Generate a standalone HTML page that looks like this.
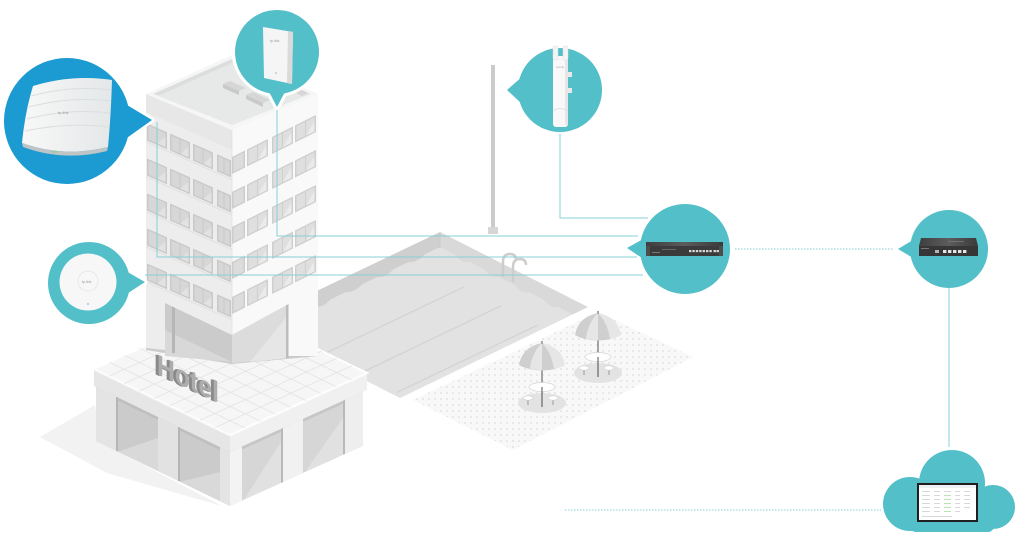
<!DOCTYPE html>
<html><head><meta charset="utf-8">
<style>html,body{margin:0;padding:0;background:#fff;overflow:hidden}svg{display:block}</style>
</head>
<body>
<svg width="1018" height="536" viewBox="0 0 1018 536" xmlns="http://www.w3.org/2000/svg" xmlns:xlink="http://www.w3.org/1999/xlink" font-family="'Liberation Sans', sans-serif">
<defs>
  <pattern id="dots" width="6" height="6" patternUnits="userSpaceOnUse"><circle cx="3" cy="3" r="0.9" fill="#dcdcdc"/></pattern>
  <clipPath id="poolclip"><polygon points="252,322 440,232 588,307 400,398"/></clipPath>
  <linearGradient id="apg" x1="0" x2="1" y1="0" y2="0"><stop offset="0" stop-color="#f8f8f8"/><stop offset="1" stop-color="#e4e7e8"/></linearGradient>
  <linearGradient id="rtop" x1="0" x2="1"><stop offset="0" stop-color="#3e3e3e"/><stop offset="0.5" stop-color="#5c5c5c"/><stop offset="1" stop-color="#3a3a3a"/></linearGradient>
  <g id="wL">
    <rect width="20" height="17" fill="#c9c9c9"/>
    <rect x="1.5" y="1.5" width="8" height="14" fill="#d7d7d7"/>
    <rect x="10.5" y="1.5" width="8" height="14" fill="#d7d7d7"/>
    <polygon points="10.5,15.5 18.5,5 18.5,15.5" fill="#e2e2e2"/>
  </g>
  <g id="wLn">
    <rect width="14" height="17" fill="#c9c9c9"/>
    <rect x="1.5" y="1.5" width="5" height="14" fill="#d7d7d7"/>
    <rect x="7.5" y="1.5" width="5" height="14" fill="#d7d7d7"/>
  </g>
  <g id="wR">
    <rect width="21" height="17" fill="#cfcfcf"/>
    <rect x="1.5" y="1.5" width="8.5" height="14" fill="#dfdfdf"/>
    <rect x="11" y="1.5" width="8.5" height="14" fill="#dfdfdf"/>
    <polygon points="11,15.5 19.5,5 19.5,15.5" fill="#ebebeb"/>
  </g>
  <g id="wRn">
    <rect width="13" height="17" fill="#cdcdcd"/>
    <rect x="1.5" y="1.5" width="10" height="14" fill="#dcdcdc"/>
  </g>
  <g id="umb">
    <ellipse cx="0" cy="60" rx="24" ry="10" fill="#e3e3e3"/>
    <line x1="-14" y1="55" x2="-14" y2="62" stroke="#9a9a9a" stroke-width="1"/>
    <line x1="11" y1="55" x2="11" y2="62" stroke="#9a9a9a" stroke-width="1"/>
    <ellipse cx="-14" cy="55" rx="5" ry="2.2" fill="#fff" stroke="#cfcfcf" stroke-width="0.6"/>
    <ellipse cx="11" cy="55" rx="5" ry="2.2" fill="#fff" stroke="#cfcfcf" stroke-width="0.6"/>
    <line x1="0" y1="22" x2="0" y2="64" stroke="#8f8f8f" stroke-width="1.6"/>
    <ellipse cx="0" cy="44" rx="13" ry="4.5" fill="#fff" stroke="#d2d2d2" stroke-width="0.7"/>
    <line x1="0" y1="44" x2="0" y2="64" stroke="#8f8f8f" stroke-width="1.6"/>
    <path d="M-23,22 Q0,33 23,22 Q0,29 -23,22Z" fill="#bdbdbd"/>
    <path d="M0,0 Q-20,4 -23,22 Q-18,25 -12,26 Q-10,10 0,0Z" fill="#cfcfcf"/>
    <path d="M0,0 Q-10,10 -12,26 L0,27.5 Z" fill="#e6e6e6"/>
    <path d="M0,0 L0,27.5 L12,26 Q10,10 0,0Z" fill="#cfcfcf"/>
    <path d="M0,0 Q10,10 12,26 Q18,25 23,22 Q20,4 0,0Z" fill="#e6e6e6"/>
    <rect x="-1" y="-2" width="2" height="3" fill="#aaa"/>
  </g>
</defs>

<!-- ground shadow -->
<polygon points="40,437 95,405 100,442 222,506 107,473" fill="#f2f2f2"/>

<!-- pool -->
<g clip-path="url(#poolclip)">
  <polygon points="252,322 440,232 588,307 400,398" fill="#d9d9d9"/>
  <polygon points="252,322 440,232 440,248 252,338" fill="#cfcfcf"/>
  <polygon points="252,337 440,247 588,322 400,413" fill="#e2e2e2"/>
  <path d="M252,337 q7.8,1 15.7,-7.5 t15.7,-7.5 t15.7,-7.5 t15.7,-7.5 t15.7,-7.5 t15.7,-7.5 t15.7,-7.5 t15.7,-7.5 t15.7,-7.5 t15.7,-7.5 t15.7,-7.5 t15.7,-7.5 L440,232 L252,322Z" fill="#cfcfcf"/>
  <path d="M440,247 q7.4,-2 14.8,7.5 t14.8,7.5 t14.8,7.5 t14.8,7.5 t14.8,7.5 t14.8,7.5 t14.8,7.5 t14.8,7.5 t14.8,7.5 t14.8,7.5 L588,307 L440,232Z" fill="#d9d9d9"/>
  <line x1="322.6" y1="354.6" x2="463.6" y2="287.1" stroke="#d3d3d3" stroke-width="1.3"/>
  <line x1="359.6" y1="373.6" x2="500.6" y2="306.1" stroke="#d3d3d3" stroke-width="1.3"/>
  <line x1="396.6" y1="392.6" x2="537.6" y2="325.1" stroke="#d3d3d3" stroke-width="1.3"/>
</g>
<line x1="440" y1="232" x2="440" y2="248" stroke="#c9c9c9" stroke-width="1"/>
<!-- ladder -->
<path d="M503,277 L503,262 Q503,254 510,254 Q516,254 516,260" stroke="#cdcdcd" stroke-width="2.5" fill="none"/>
<path d="M513,282 L513,267 Q513,259 520,259 Q526,259 526,265" stroke="#cdcdcd" stroke-width="2.5" fill="none"/>

<!-- light pole -->
<rect x="491" y="65" width="4" height="164" fill="#cbcbcb"/>
<rect x="488" y="227" width="10" height="7" fill="#d6d6d6"/>

<!-- patio -->
<polygon points="413,400 598,312 693,357 513,450" fill="#f8f8f8"/>
<polygon points="413,400 598,312 693,357 513,450" fill="url(#dots)"/>
<use xlink:href="#umb" href="#umb" x="598" y="313"/>
<use xlink:href="#umb" href="#umb" x="542" y="343"/>

<!-- podium roof -->
<polygon points="94,369 231,307 367,373 230,435" fill="#f6f6f6" stroke="#fff" stroke-width="2"/>
<g stroke="#e3e3e3" stroke-width="0.8">
  <line x1="109.1" y1="376.3" x2="246.1" y2="314.3"/>
  <line x1="124.2" y1="383.7" x2="261.2" y2="321.7"/>
  <line x1="139.3" y1="391" x2="276.3" y2="329"/>
  <line x1="154.4" y1="398.3" x2="291.4" y2="336.3"/>
  <line x1="169.6" y1="405.7" x2="306.6" y2="343.7"/>
  <line x1="184.7" y1="413" x2="321.7" y2="351"/>
  <line x1="199.8" y1="420.3" x2="336.8" y2="358.3"/>
  <line x1="214.9" y1="427.7" x2="351.9" y2="365.7"/>
  <line x1="109.2" y1="362.1" x2="245.2" y2="428.1"/>
  <line x1="124.4" y1="355.2" x2="260.4" y2="421.2"/>
  <line x1="139.7" y1="348.3" x2="275.7" y2="414.3"/>
  <line x1="154.9" y1="341.4" x2="290.9" y2="407.4"/>
  <line x1="170.1" y1="334.6" x2="306.1" y2="400.6"/>
  <line x1="185.3" y1="327.7" x2="321.3" y2="393.7"/>
  <line x1="200.6" y1="320.8" x2="336.6" y2="386.8"/>
  <line x1="215.8" y1="313.9" x2="351.8" y2="379.9"/>
</g>

<!-- podium left facade -->
<g transform="matrix(1 0.485 0 1 94 369)">
  <rect x="0" y="0" width="136" height="17" fill="#e6e6e6"/>
  <rect x="0" y="0" width="136" height="1.5" fill="#fafafa"/>
  <rect x="2" y="17" width="134" height="54" fill="#cbcbcb"/>
  <polygon points="24,71 64,38 64,71" fill="#d9d9d9"/>
  <polygon points="86,71 126,42 126,71" fill="#d9d9d9"/>
  <rect x="2" y="17" width="134" height="3" fill="#bfbfbf"/>
  <rect x="2" y="17" width="20" height="54" fill="#e4e4e4"/>
  <rect x="22" y="17" width="2" height="54" fill="#b5b5b5"/>
  <rect x="64" y="17" width="20" height="54" fill="#e2e2e2"/>
  <rect x="84" y="17" width="2" height="54" fill="#b5b5b5"/>
  <rect x="126" y="17" width="10" height="54" fill="#e4e4e4"/>
</g>
<!-- podium right facade -->
<g transform="matrix(1 -0.453 0 1 230 435)">
  <rect x="0" y="0" width="137" height="17" fill="#f0f0f0"/>
  <rect x="0" y="0" width="137" height="1.5" fill="#fcfcfc"/>
  <rect x="0" y="17" width="133" height="54" fill="#d6d6d6"/>
  <polygon points="14,71 51,30 51,71" fill="#e1e1e1"/>
  <polygon points="75,71 113,34 113,71" fill="#e1e1e1"/>
  <rect x="0" y="17" width="133" height="3" fill="#c6c6c6"/>
  <rect x="0" y="17" width="12" height="54" fill="#f3f3f3"/>
  <rect x="51" y="17" width="2" height="54" fill="#b9b9b9"/>
  <rect x="53" y="17" width="20" height="54" fill="#f1f1f1"/>
  <rect x="113" y="17" width="2" height="54" fill="#b9b9b9"/>
  <rect x="115" y="17" width="18" height="54" fill="#eeeeee"/>
</g>

<!-- tower lobby -->
<polygon points="146,298 318,290 318,356 232,364 146,350" fill="#cbcbcb"/>
<polygon points="165,330 232,362 165,356" fill="#d8d8d8"/>
<polygon points="232,335 288,304 288,358 232,363" fill="#dcdcdc"/>
<polygon points="250,362 288,315 288,358" fill="#e6e6e6"/>
<rect x="172" y="305" width="3" height="48" fill="#b6b6b6"/>
<rect x="286" y="304" width="2.5" height="54" fill="#bdbdbd"/>

<!-- tower faces -->
<polygon points="146,94 232,130 232,335 165,303 165,350 146,348" fill="#ededed"/>
<polygon points="232,130 318,94 318,356 288.5,356 288.5,304 232,335" fill="#f9f9f9"/>
<polygon points="146,94 232,130 232,150 146,112" fill="#e7e7e7"/>
<line x1="232" y1="130" x2="232" y2="335" stroke="#e2e2e2" stroke-width="0.8"/>

<g transform="matrix(1 0.44 0 1 146 112)">
  <use href="#wL" xlink:href="#wL" x="1" y="11"/><use href="#wL" xlink:href="#wL" x="24" y="11"/><use href="#wL" xlink:href="#wL" x="47" y="11"/><use href="#wLn" xlink:href="#wLn" x="71" y="11"/>
  <use href="#wL" xlink:href="#wL" x="1" y="46"/><use href="#wL" xlink:href="#wL" x="24" y="46"/><use href="#wL" xlink:href="#wL" x="47" y="46"/><use href="#wLn" xlink:href="#wLn" x="71" y="46"/>
  <use href="#wL" xlink:href="#wL" x="1" y="81"/><use href="#wL" xlink:href="#wL" x="24" y="81"/><use href="#wL" xlink:href="#wL" x="47" y="81"/><use href="#wLn" xlink:href="#wLn" x="71" y="81"/>
  <use href="#wL" xlink:href="#wL" x="1" y="116"/><use href="#wL" xlink:href="#wL" x="24" y="116"/><use href="#wL" xlink:href="#wL" x="47" y="116"/><use href="#wLn" xlink:href="#wLn" x="71" y="116"/>
  <use href="#wL" xlink:href="#wL" x="1" y="151"/><use href="#wL" xlink:href="#wL" x="24" y="151"/><use href="#wL" xlink:href="#wL" x="47" y="151"/><use href="#wLn" xlink:href="#wLn" x="71" y="151"/>
  <g fill="#e3e3e3"><rect x="0" y="29" width="86" height="1.5"/><rect x="0" y="64" width="86" height="1.5"/><rect x="0" y="99" width="86" height="1.5"/><rect x="0" y="134" width="86" height="1.5"/><rect x="0" y="169" width="86" height="1.5"/></g>
</g>
<g transform="matrix(1 -0.5 0 1 232 150)">
  <use href="#wRn" xlink:href="#wRn" x="0" y="7"/><use href="#wR" xlink:href="#wR" x="15" y="7"/><use href="#wR" xlink:href="#wR" x="40" y="7"/><use href="#wR" xlink:href="#wR" x="63" y="7"/>
  <use href="#wRn" xlink:href="#wRn" x="0" y="42"/><use href="#wR" xlink:href="#wR" x="15" y="42"/><use href="#wR" xlink:href="#wR" x="40" y="42"/><use href="#wR" xlink:href="#wR" x="63" y="42"/>
  <use href="#wRn" xlink:href="#wRn" x="0" y="77"/><use href="#wR" xlink:href="#wR" x="15" y="77"/><use href="#wR" xlink:href="#wR" x="40" y="77"/><use href="#wR" xlink:href="#wR" x="63" y="77"/>
  <use href="#wRn" xlink:href="#wRn" x="0" y="112"/><use href="#wR" xlink:href="#wR" x="15" y="112"/><use href="#wR" xlink:href="#wR" x="40" y="112"/><use href="#wR" xlink:href="#wR" x="63" y="112"/>
  <use href="#wRn" xlink:href="#wRn" x="0" y="147"/><use href="#wR" xlink:href="#wR" x="15" y="147"/><use href="#wR" xlink:href="#wR" x="40" y="147"/><use href="#wR" xlink:href="#wR" x="63" y="147"/>
</g>

<!-- tower roof -->
<polygon points="146,94 232,55 318,94 232,130" fill="#f6f6f6"/>
<polygon points="153,94 232,59 311,94 232,125" fill="#e7e8e8"/>
<polygon points="153,94 232,59 232,63 160,95" fill="#dcdddd"/>
<polygon points="223,84 230,81 246,88 239,91" fill="#d6d6d6"/><polygon points="223,84 239,91 239,95 223,88" fill="#c9c9c9"/>
<polygon points="246,95 253,92 270,100 263,103" fill="#d6d6d6"/><polygon points="246,95 263,103 263,107 246,99" fill="#c9c9c9"/>
<polygon points="294,92 300,89 308,93 302,96" fill="#d6d6d6"/>

<!-- Hotel sign -->
<g transform="translate(157,374) skewY(25)" font-size="29" font-weight="bold">
  <text x="-3" y="1" fill="#8a8a8a" textLength="62" lengthAdjust="spacingAndGlyphs">Hotel</text>
  <text x="-1.5" y="0.5" fill="#8a8a8a" textLength="62" lengthAdjust="spacingAndGlyphs">Hotel</text>
  <text x="0" y="0" fill="#adadad" textLength="62" lengthAdjust="spacingAndGlyphs">Hotel</text>
</g>

<!-- connector lines -->
<g stroke="#86d0d8" stroke-width="1" fill="none">
  <polyline points="277,108 277,236 638,236"/>
  <polyline points="157,122 157,257 637,257"/>
  <line x1="145" y1="275" x2="643" y2="275"/>
  <polyline points="560,134 560,218 648,218"/>
  <line x1="949" y1="288" x2="949" y2="447"/>
  <line x1="735" y1="249" x2="893" y2="249" stroke-dasharray="1.5 1.5"/>
  <line x1="565" y1="510" x2="881" y2="510" stroke-dasharray="1.5 1.5"/>
</g>

<!-- blue bubble (ceiling AP) -->
<g>
  <circle cx="67" cy="121" r="63" fill="#fff" stroke="#fff" stroke-width="5"/>
  <polygon points="122,102 152,120 124,140" fill="#fff" stroke="#fff" stroke-width="5" stroke-linejoin="round"/>
  <circle cx="67" cy="121" r="63" fill="#1c9ad2"/>
  <polygon points="122,102 152,120 124,140" fill="#1c9ad2"/>
  <path d="M33,86 Q72,74 112,80 Q111,115 108,147 Q64,158 22,143 Q25,112 33,86 Z" fill="url(#apg)"/>
  <g stroke="#dcdfe0" stroke-width="1.1" fill="none">
    <path d="M31,96 Q72,85 111,90"/><path d="M29,107 Q71,96 111,101"/><path d="M27,119 Q70,108 110,113"/><path d="M25,131 Q68,122 109,127"/>
  </g>
  <path d="M22,143 Q64,158 108,147 L107,151 Q64,162 23,147 Z" fill="#bfc4c6"/>
  <rect x="52" y="151" width="5" height="1.5" fill="#8fd18f"/>
  <text x="58" y="114" font-size="4" fill="#9a9a9a">tp-link</text>
</g>

<!-- top bubble (wall plate AP) -->
<g>
  <circle cx="277" cy="52" r="42" fill="#fff" stroke="#fff" stroke-width="6"/>
  <polygon points="267,88 277,107 287,88" fill="#fff" stroke="#fff" stroke-width="6" stroke-linejoin="round"/>
  <circle cx="277" cy="52" r="42" fill="#52bfc9"/>
  <polygon points="267,88 277,107 287,88" fill="#52bfc9"/>
  <polygon points="263,27 293,32 292,84 264,78" fill="#f5f5f5"/>
  <polygon points="288,31 293,32 292,84 287,83" fill="#dadada"/>
  <text x="270" y="42" font-size="3.5" fill="#999">tp-link</text>
  <circle cx="276" cy="73" r="0.8" fill="#aaa"/>
</g>

<!-- small teal bubble (ceiling AP) -->
<g>
  <circle cx="89" cy="283" r="41" fill="#fff" stroke="#fff" stroke-width="5"/>
  <polygon points="124,270 145,282 125,295" fill="#fff" stroke="#fff" stroke-width="5" stroke-linejoin="round"/>
  <circle cx="89" cy="283" r="41" fill="#52bfc9"/>
  <polygon points="124,270 145,282 125,295" fill="#52bfc9"/>
  <circle cx="88" cy="282" r="28.5" fill="#f7f7f7"/>
  <circle cx="88" cy="281" r="10" fill="none" stroke="#e8e8e8" stroke-width="1"/>
  <text x="82" y="283" font-size="3.5" fill="#999">tp-link</text>
  <circle cx="88" cy="304" r="1" fill="#9cc6ea"/>
</g>

<!-- outdoor AP bubble -->
<g>
  <circle cx="560" cy="90" r="42" fill="#52bfc9"/>
  <polygon points="523,76 507,90 522,104" fill="#52bfc9"/>
  <rect x="553" y="56" width="15" height="71" rx="3" fill="#f8f8f8"/>
  <rect x="565" y="58" width="3" height="67" fill="#e6e6e6"/>
  <rect x="553" y="46" width="5" height="14" rx="1.5" fill="#f4f4f4" stroke="#dedede" stroke-width="0.5"/>
  <rect x="563" y="46" width="5" height="14" rx="1.5" fill="#f4f4f4" stroke="#dedede" stroke-width="0.5"/>
  <rect x="568" y="72" width="4" height="5" fill="#e9e9e9"/>
  <rect x="568" y="88" width="4" height="5" fill="#e9e9e9"/>
  <path d="M553,111 Q560,106 568,111" stroke="#dcdcdc" fill="none" stroke-width="0.8"/>
  <text x="556" y="68" font-size="3" fill="#aaa">tp-link</text>
</g>

<!-- switch bubble -->
<g>
  <circle cx="685" cy="249" r="45" fill="#52bfc9"/>
  <polygon points="645,238 627,248 645,260" fill="#52bfc9"/>
  <rect x="646" y="242" width="77" height="14" fill="#3b3b3b"/>
  <rect x="646" y="242" width="77" height="4" fill="url(#rtop)"/>
  <rect x="646" y="246" width="4" height="10" fill="#4c4c4c"/>
  <rect x="719" y="246" width="4" height="10" fill="#4c4c4c"/>
  <g fill="#d8d8d8">
    <rect x="689" y="250" width="2.4" height="2.2"/><rect x="692.4" y="250" width="2.4" height="2.2"/><rect x="695.8" y="250" width="2.4" height="2.2"/><rect x="699.2" y="250" width="2.4" height="2.2"/><rect x="702.6" y="250" width="2.4" height="2.2"/><rect x="706" y="250" width="2.4" height="2.2"/><rect x="709.4" y="250" width="2.4" height="2.2"/>
    <rect x="713.5" y="250" width="2.4" height="2.2"/><rect x="716.5" y="250" width="2.4" height="2.2"/>
  </g>
  <rect x="662" y="249" width="14" height="1" fill="#666"/>
  <rect x="652" y="252" width="8" height="1" fill="#777"/>
</g>

<!-- router bubble -->
<g>
  <circle cx="949" cy="249" r="39" fill="#52bfc9"/>
  <polygon points="913,240 898,249 913,258" fill="#52bfc9"/>
  <polygon points="921,238 976,238 978,246 919,246" fill="url(#rtop)"/>
  <rect x="919" y="246" width="59" height="10" fill="#363636"/>
  <g fill="#e6e6e6">
    <rect x="943" y="250" width="3.4" height="3"/><rect x="948" y="250" width="3.4" height="3"/><rect x="953" y="250" width="3.4" height="3"/><rect x="958" y="250" width="3.4" height="3"/><rect x="963" y="250" width="3.4" height="3"/>
  </g>
  <rect x="935" y="250" width="4" height="3" fill="#b5b5b5"/>
  <rect x="921" y="248" width="8" height="1" fill="#777"/>
  <rect x="948" y="241" width="16" height="0.8" fill="#777"/>
</g>

<!-- cloud -->
<g fill="#52bfc9">
  <circle cx="910" cy="504" r="27"/>
  <circle cx="952" cy="483" r="33"/>
  <circle cx="993" cy="507" r="22"/>
  <rect x="910" y="495" width="84" height="37" rx="6"/>
</g>
<rect x="917" y="483" width="61" height="39" fill="#1f1f1f"/>
<rect x="919" y="485" width="57" height="35" fill="#fff"/>
<rect x="919" y="485" width="57" height="3" fill="#eef2f4"/>
<g fill="#cfcfcf">
  <rect x="922" y="491" width="8" height="0.8"/><rect x="934" y="491" width="6" height="0.8"/><rect x="944" y="491" width="7" height="0.8"/><rect x="955" y="491" width="5" height="0.8"/><rect x="964" y="491" width="6" height="0.8"/>
  <rect x="922" y="495" width="8" height="0.8"/><rect x="934" y="495" width="6" height="0.8"/><rect x="955" y="495" width="5" height="0.8"/><rect x="964" y="495" width="6" height="0.8"/>
  <rect x="922" y="499" width="8" height="0.8"/><rect x="934" y="499" width="6" height="0.8"/><rect x="955" y="499" width="5" height="0.8"/><rect x="964" y="499" width="6" height="0.8"/>
  <rect x="922" y="503" width="8" height="0.8"/><rect x="934" y="503" width="6" height="0.8"/><rect x="955" y="503" width="5" height="0.8"/><rect x="964" y="503" width="6" height="0.8"/>
  <rect x="922" y="507" width="8" height="0.8"/><rect x="934" y="507" width="6" height="0.8"/><rect x="955" y="507" width="5" height="0.8"/><rect x="964" y="507" width="6" height="0.8"/>
  <rect x="922" y="511" width="8" height="0.8"/><rect x="934" y="511" width="6" height="0.8"/><rect x="955" y="511" width="5" height="0.8"/>
  <rect x="922" y="516" width="30" height="0.8"/>
</g>
<g fill="#a9dca0">
  <rect x="944" y="495" width="7" height="0.8"/><rect x="944" y="499" width="7" height="0.8"/><rect x="944" y="503" width="7" height="0.8"/><rect x="944" y="507" width="7" height="0.8"/><rect x="944" y="511" width="7" height="0.8"/>
</g>
</svg>
</body></html>
